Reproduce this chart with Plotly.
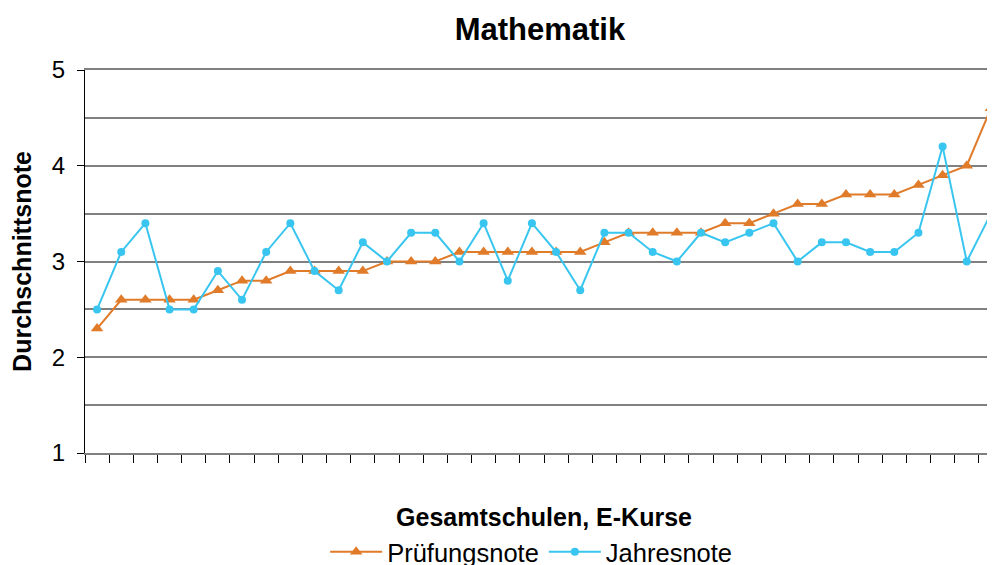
import plotly.graph_objects as go

schools = [str(i) for i in range(1, 39)]
pruefungsnote = [2.3, 2.6, 2.6, 2.6, 2.6, 2.7, 2.8, 2.8, 2.9, 2.9, 2.9, 2.9, 3.0, 3.0, 3.0,
                 3.1, 3.1, 3.1, 3.1, 3.1, 3.1, 3.2, 3.3, 3.3, 3.3, 3.3, 3.4, 3.4, 3.5, 3.6,
                 3.6, 3.7, 3.7, 3.7, 3.8, 3.9, 4.0, 4.6]
jahresnote = [2.5, 3.1, 3.4, 2.5, 2.5, 2.9, 2.6, 3.1, 3.4, 2.9, 2.7, 3.2, 3.0, 3.3, 3.3,
              3.0, 3.4, 2.8, 3.4, 3.1, 2.7, 3.3, 3.3, 3.1, 3.0, 3.3, 3.2, 3.3, 3.4, 3.0,
              3.2, 3.2, 3.1, 3.1, 3.3, 4.2, 3.0, 3.5]
y_ticks = [1, 2, 3, 4, 5]

ORANGE = "#E07B2A"
BLUE = "#38C5EF"
FONT = "Liberation Sans, Arial, sans-serif"

fig = go.Figure()
fig.add_trace(go.Scatter(
    x=schools, y=pruefungsnote, name="Prüfungsnote", mode="lines+markers",
    line=dict(color=ORANGE, width=2),
    marker=dict(symbol="triangle-up", size=11, color=ORANGE),
))
fig.add_trace(go.Scatter(
    x=schools, y=jahresnote, name="Jahresnote", mode="lines+markers",
    line=dict(color=BLUE, width=2),
    marker=dict(symbol="circle", size=8, color=BLUE),
))

fig.update_layout(
    width=995, height=565,
    margin=dict(l=77, r=0, t=62, b=120, autoexpand=False),
    paper_bgcolor="white", plot_bgcolor="white",
    font=dict(family=FONT, color="black"),
    title=dict(text="<b>Mathematik</b>", font=dict(size=31, color="black"),
               x=0.4956, xref="paper", xanchor="center",
               y=1 - 21 / 565, yref="container", yanchor="middle"),
    showlegend=True,
    legend=dict(orientation="h", x=0.486, xanchor="center", y=-0.259, yanchor="middle",
                font=dict(size=25.5), bgcolor="rgba(0,0,0,0)", itemwidth=52,
                traceorder="normal"),
    xaxis=dict(
        type="category", categoryorder="array", categoryarray=schools,
        range=[-0.5, 37.5], tickson="boundaries", ticks="outside", ticklen=8,
        tickcolor="black", tickwidth=1, showticklabels=False, showgrid=False,
        showline=True, linecolor="#808080", linewidth=2, mirror=True, zeroline=False,
        automargin=False,
        title=dict(text="<b>Gesamtschulen, E-Kurse</b>", font=dict(size=25), standoff=54),
    ),
    yaxis=dict(
        range=[1, 5], tickvals=y_ticks, ticks="outside", ticklen=7, tickcolor="black",
        tickfont=dict(size=24), ticklabelstandoff=7,
        showgrid=True, gridcolor="#808080", gridwidth=1.5,
        minor=dict(dtick=0.5, showgrid=True, gridcolor="#808080", gridwidth=1.5),
        showline=True, linecolor="black", linewidth=1, zeroline=False,
        automargin=False,
        title=dict(text="<b>Durchschnittsnote</b>", font=dict(size=25), standoff=16),
    ),
)

fig.write_html("out.html")
